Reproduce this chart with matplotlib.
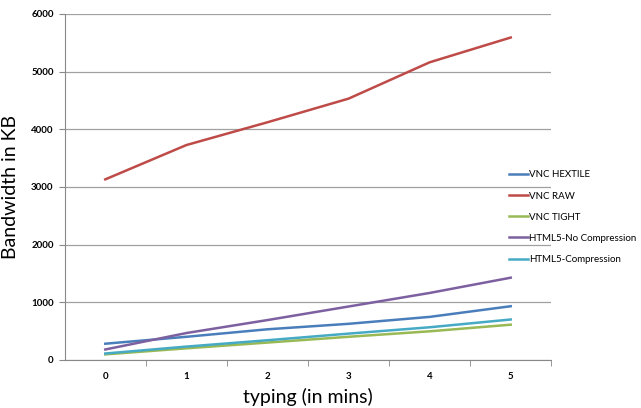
import matplotlib.pyplot as plt
from matplotlib.ticker import FixedLocator

plt.rcParams['font.family'] = ['Lato', 'DejaVu Sans']

# bandwidth used while typing, sampled each minute
minutes = [0, 1, 2, 3, 4, 5]
vnc_hextile = [280, 400, 530, 625, 745, 930]
vnc_raw = [3130, 3725, 4120, 4530, 5160, 5590]
vnc_tight = [95, 200, 300, 400, 495, 610]
html5_nocomp = [180, 465, 690, 925, 1160, 1425]
html5_comp = [110, 230, 340, 455, 565, 700]

series = [
    ('VNC HEXTILE', vnc_hextile, '#4A7EBB'),
    ('VNC RAW', vnc_raw, '#BE4B48'),
    ('VNC TIGHT', vnc_tight, '#98B954'),
    ('HTML5-No Compression', html5_nocomp, '#7D60A0'),
    ('HTML5-Compression', html5_comp, '#46AAC5'),
]

fig = plt.figure(figsize=(6.41, 4.08), dpi=100)
ax = fig.add_axes([0.101, 0.118, 0.759, 0.848])

for name, vals, col in series:
    ax.plot(minutes, vals, color=col, lw=1.8, label=name)

ax.set_xlim(-0.5, 5.5)
ax.set_ylim(0, 6000)
ax.set_yticks(range(0, 6001, 1000))
ax.set_xticks(minutes)
ax.xaxis.set_minor_locator(FixedLocator([m + 0.5 for m in minutes]))
ax.tick_params(axis='x', which='major', length=0, pad=9)
ax.tick_params(axis='x', which='minor', length=4, color='#888888')
ax.tick_params(axis='y', length=4, color='#888888', pad=4)
ax.tick_params(labelsize=7)
for lab in ax.get_xticklabels() + ax.get_yticklabels():
    lab.set_fontweight('bold')

ax.grid(axis='y', color='#a0a0a0', lw=0.9)
ax.set_axisbelow(True)
for s in ['top', 'right']:
    ax.spines[s].set_visible(False)
for s in ['left', 'bottom']:
    ax.spines[s].set_color('#888888')

ax.set_xlabel('typing (in mins)', fontsize=14, labelpad=5)
ax.set_ylabel('Bandwidth in KB', fontsize=14, labelpad=9)

fig.legend(loc='upper left', bbox_to_anchor=(0.788, 0.592), frameon=False,
           fontsize=7, handlelength=2.0, handletextpad=0.1,
           labelspacing=1.25, borderaxespad=0)

fig.savefig('out.png', dpi=100)
